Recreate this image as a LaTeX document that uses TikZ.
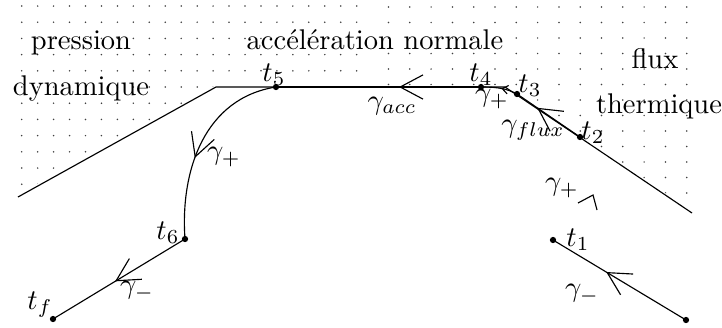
\documentclass[tikz,border=0pt]{standalone}
\usepackage{amsmath}
\usepackage{tikz}
\usetikzlibrary{arrows.meta,decorations.markings}

\tikzset{
  tpoint/.style={circle, fill, inner sep=0pt, minimum size=2.2pt},
  grain/.style={fill=black!75},
  flowarrow/.style={postaction={decorate}, decoration={markings,
      mark=at position #1 with {\arrow{Straight Barb[length=8pt,width=8.5pt]}}}},
  smallflow/.style={postaction={decorate}, decoration={markings,
      mark=at position #1 with {\arrow{Straight Barb[length=2pt,width=3pt]}}}},
}

\begin{document}
\begin{tikzpicture}[x=0.351pt, y=-0.351pt, line width=0.4pt]
    \useasboundingbox (0,0) rectangle (722,327);

    % Dotted zones above the boundary
    \begin{scope}
        \clip (17,0) -- (366,0) -- (366,85) -- (216,85) -- (17,195) -- cycle;
        \foreach \i in {0,...,21}
            \foreach \j in {0,...,12}
                \fill[grain] ({21.7+15.95*\i},{6+16.2*\j}) circle (0.3pt);
    \end{scope}
    \begin{scope}
        \clip (376,0) -- (692,0) -- (692,211) -- (505,85) -- (376,85) -- cycle;
        \foreach \i in {0,...,14}
            \foreach \j in {0,...,13}
                \fill[grain] ({686.7-21.3*\i},{7+15.5*\j}) circle (0.3pt);
    \end{scope}

    % Boundary
    \draw (18,197) -- (216,87) -- (505,87) -- (692,213);

    % Zone names
    \node[anchor=base] at (81,49) {pression};
    \node[anchor=base] at (81,95) {dynamique};
    \node[anchor=base] at (375,49) {accélération normale};
    \node[anchor=base] at (655,68) {flux};
    \node[anchor=base] at (659,113) {thermique};

    % Trajectory points
    \node[tpoint] (t0) at (686,320) {};
    \node[tpoint] (t1) at (553,240) {};
    \node[tpoint] (t2) at (580,137) {};
    \node[tpoint] (t3) at (517,94) {};
    \node[tpoint] (t4) at (481,87) {};
    \node[tpoint] (t5) at (276,87) {};
    \node[tpoint] (t6) at (185,239) {};
    \node[tpoint] (tf) at (53,319) {};

    % Arcs of the trajectory
    \draw[flowarrow=0.6] (t0.center) -- (t1.center);
    \draw (578,203) -- (593,195) -- (597,210);
    \draw[flowarrow=0.68] (t2.center) -- (t3.center);
    \draw[smallflow=0.45] (t3.center) .. controls (507,89) and (500,87) .. (t4.center);
    \draw[flowarrow=0.4] (t4.center) -- (t5.center);
    \draw[flowarrow=0.58] (t5.center) .. controls (205,98) and (180,170) .. (t6.center);
    \draw[flowarrow=0.53] (t6.center) -- (tf.center);

    % Point labels
    \node[inner sep=0pt] at (274,75) {$t_5$};
    \node[inner sep=0pt] at (481,75) {$t_4$};
    \node[inner sep=0pt] at (530,86) {$t_3$};
    \node[inner sep=0pt] at (593,133) {$t_2$};
    \node[inner sep=0pt] at (578,240) {$t_1$};
    \node[inner sep=0pt] at (168,233) {$t_6$};
    \node[inner sep=0pt] at (40,305) {$t_f$};

    % Arc labels
    \node[inner sep=0pt] at (392,106) {$\gamma_{acc}$};
    \node[inner sep=0pt] at (492,99) {$\gamma_+$};
    \node[inner sep=0pt] at (533,130) {$\gamma_{flux}$};
    \node[inner sep=0pt] at (224,157) {$\gamma_+$};
    \node[inner sep=0pt] at (562,188) {$\gamma_+$};
    \node[inner sep=0pt] at (582,294) {$\gamma_-$};
    \node[inner sep=0pt] at (137,291) {$\gamma_-$};
\end{tikzpicture}
\end{document}
